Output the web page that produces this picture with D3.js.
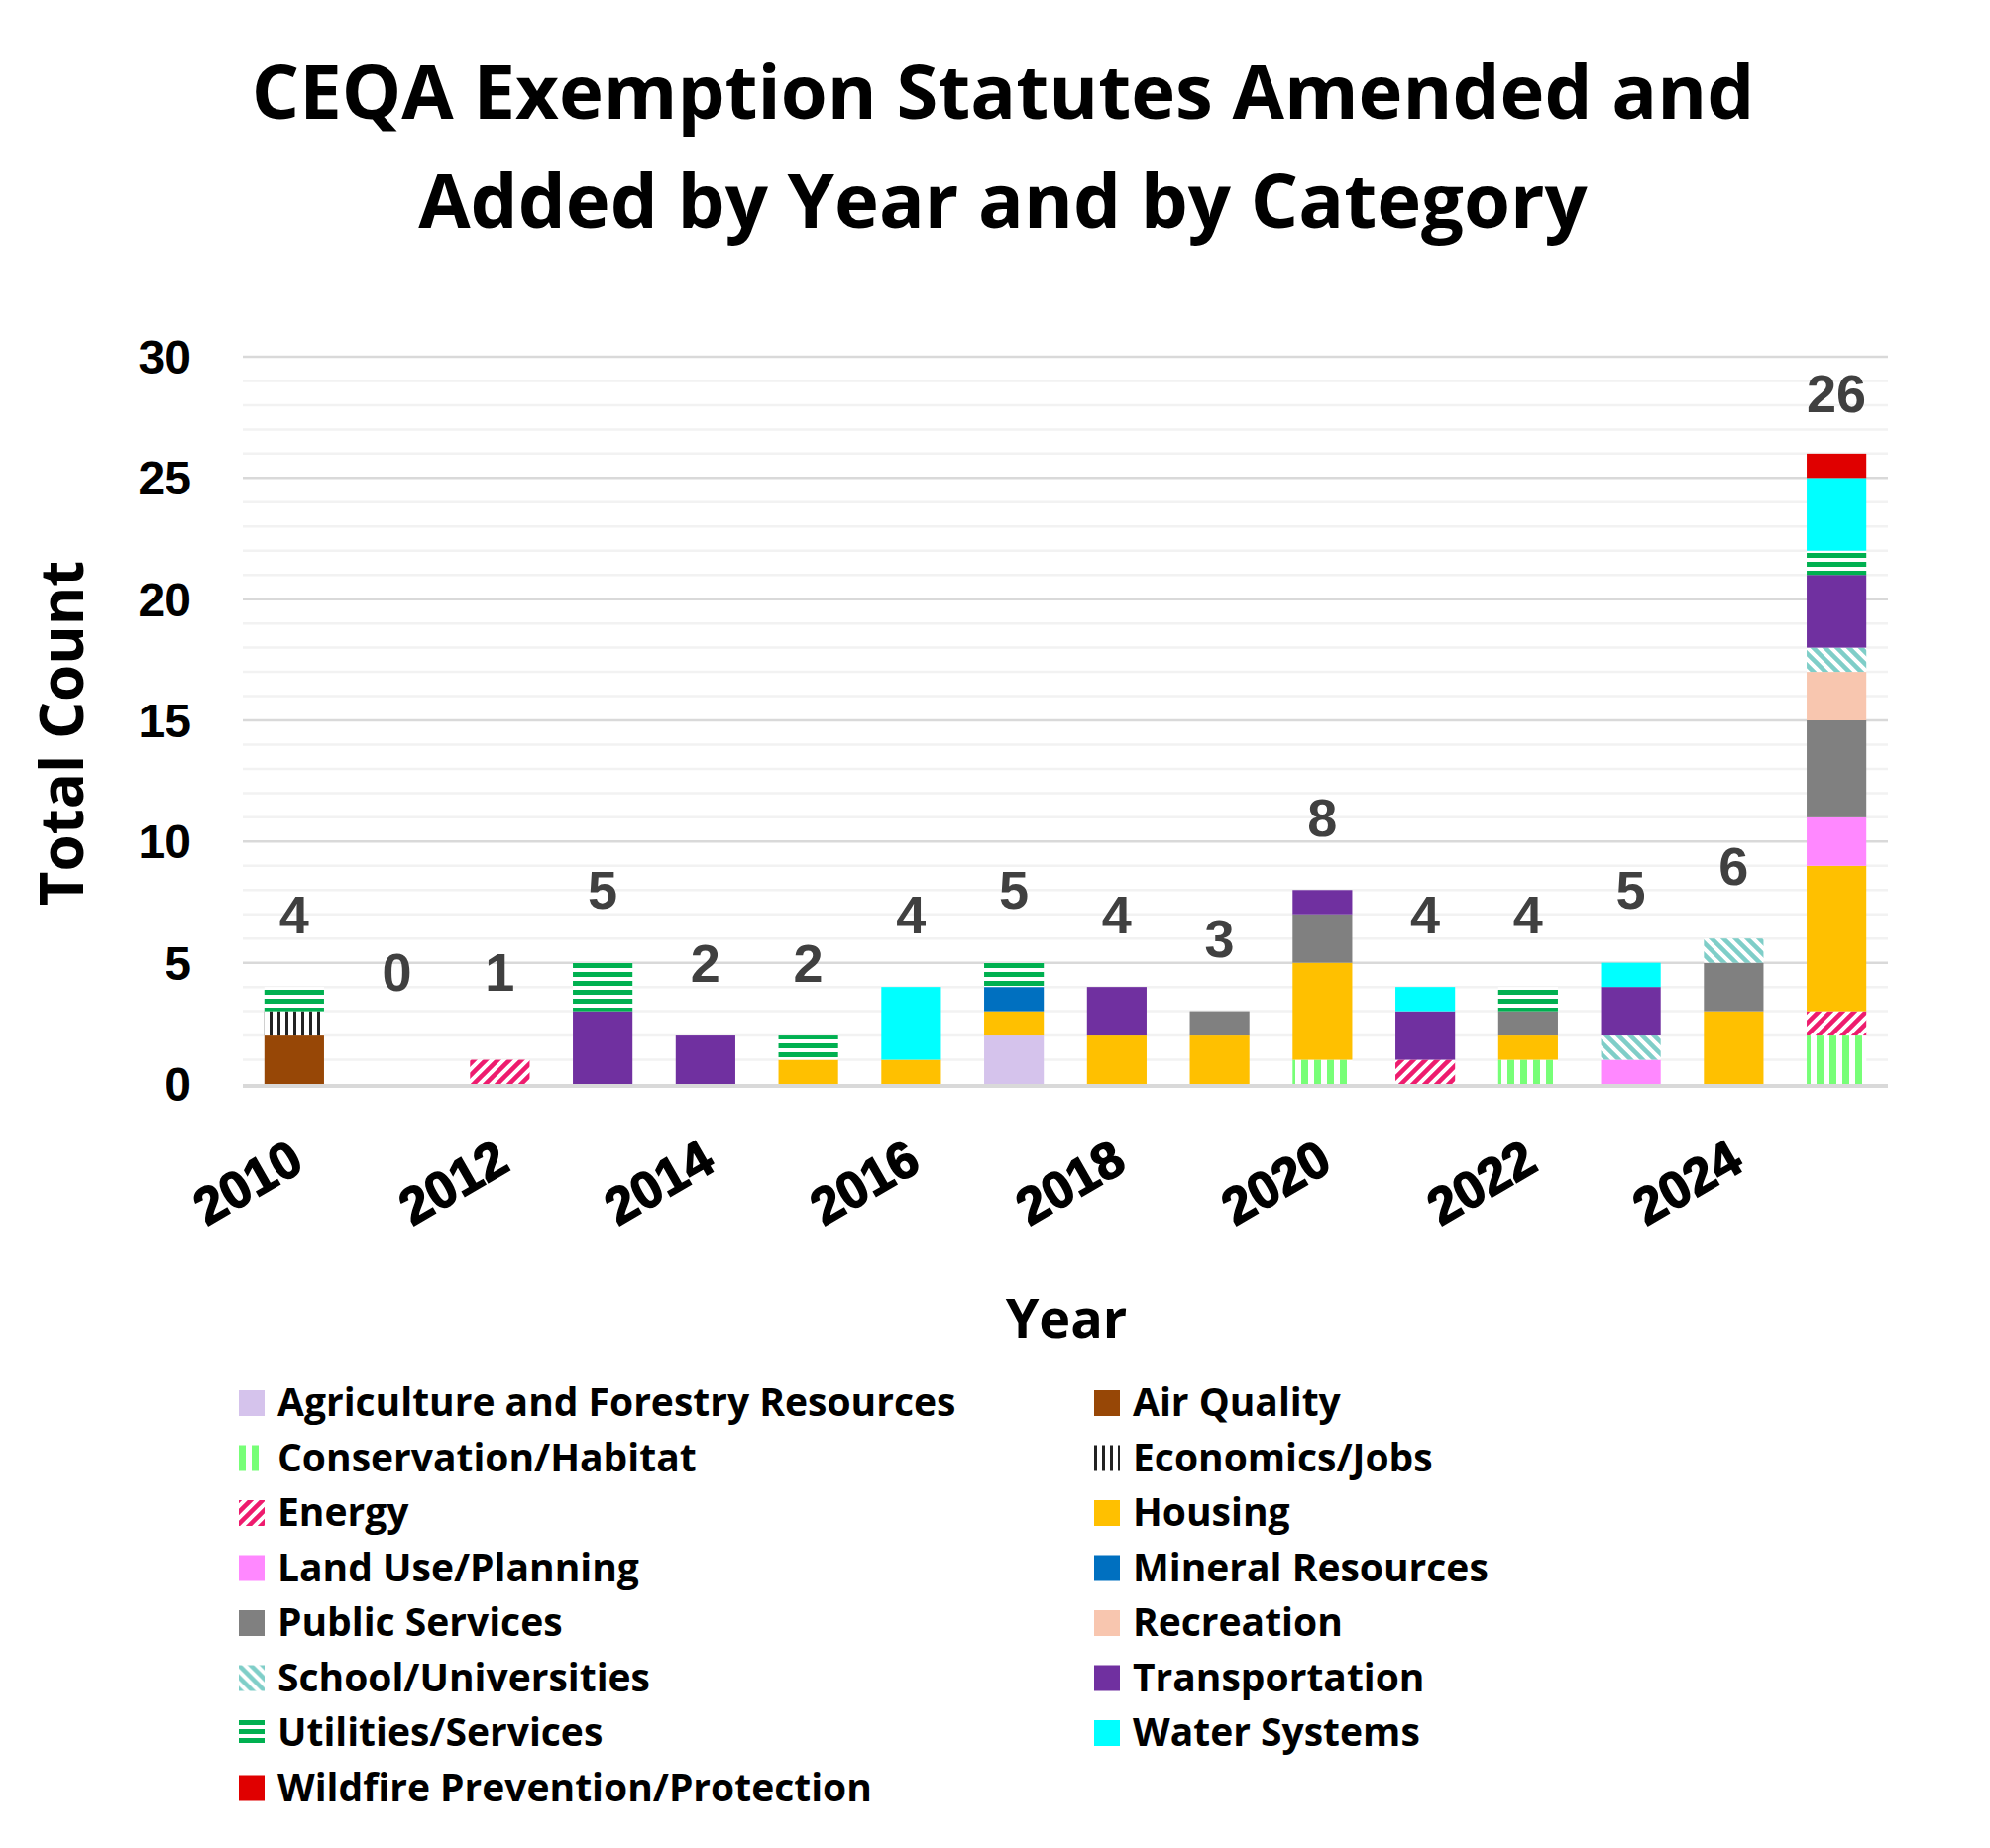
<!DOCTYPE html>
<html>
<head>
<meta charset="utf-8">
<script src="https://cdn.jsdelivr.net/npm/d3@7"></script>
<style>
  body { margin: 0; background: #fff; }
  text { font-family: "Liberation Sans", Arial, sans-serif; }
</style>
</head>
<body>
<div id="chart"></div>
<script>
// years and categories, stacked bottom to top in this order
var years = ["2010","2011","2012","2013","2014","2015","2016","2017","2018","2019","2020","2021","2022","2023","2024","2025"];
var categories = ["Agriculture and Forestry Resources","Air Quality","Conservation/Habitat","Economics/Jobs",
  "Energy","Housing","Land Use/Planning","Mineral Resources","Public Services","Recreation",
  "School/Universities","Transportation","Utilities/Services","Water Systems","Wildfire Prevention/Protection"];

// one array per category, one value per year
var agriculture    = [0,0,0,0,0,0,0,2,0,0,0,0,0,0,0,0];
var airQuality     = [2,0,0,0,0,0,0,0,0,0,0,0,0,0,0,0];
var conservation   = [0,0,0,0,0,0,0,0,0,0,1,0,1,0,0,2];
var economics      = [1,0,0,0,0,0,0,0,0,0,0,0,0,0,0,0];
var energy         = [0,0,1,0,0,0,0,0,0,0,0,1,0,0,0,1];
var housing        = [0,0,0,0,0,1,1,1,2,2,4,0,1,0,3,6];
var landUse        = [0,0,0,0,0,0,0,0,0,0,0,0,0,1,0,2];
var mineral        = [0,0,0,0,0,0,0,1,0,0,0,0,0,0,0,0];
var publicServices = [0,0,0,0,0,0,0,0,0,1,2,0,1,0,2,4];
var recreation     = [0,0,0,0,0,0,0,0,0,0,0,0,0,0,0,2];
var schools        = [0,0,0,0,0,0,0,0,0,0,0,0,0,1,1,1];
var transportation = [0,0,0,3,2,0,0,0,2,0,1,2,0,2,0,3];
var utilities      = [1,0,0,2,0,1,0,1,0,0,0,0,1,0,0,1];
var water          = [0,0,0,0,0,0,3,0,0,0,0,1,0,1,0,3];
var wildfire       = [0,0,0,0,0,0,0,0,0,0,0,0,0,0,0,1];

var series = [agriculture, airQuality, conservation, economics, energy, housing, landUse, mineral,
  publicServices, recreation, schools, transportation, utilities, water, wildfire];
var yTicks = [0, 5, 10, 15, 20, 25, 30];
var xTickYears = ["2010","2012","2014","2016","2018","2020","2022","2024"];

var W = 2008, H = 1865;
var svg = d3.select('#chart').append('svg').attr('width', W).attr('height', H);
var defs = svg.append('defs');
var sansBold = '"Open Sans", Lato, sans-serif';

// fills: plain colours or pattern ids
function pattern(id, size, draw) {
  var p = defs.append('pattern').attr('id', id).attr('patternUnits', 'userSpaceOnUse')
    .attr('width', size).attr('height', size);
  p.append('rect').attr('width', size).attr('height', size).attr('fill', '#fff');
  draw(p);
}
pattern('pCons', 13, function(p) { p.append('rect').attr('x', 0).attr('width', 7).attr('height', 13).attr('fill', '#77FF77'); });
pattern('pEcon', 8, function(p) { p.append('rect').attr('x', 0).attr('width', 3).attr('height', 8).attr('fill', '#222'); });
pattern('pUtil', 9, function(p) { p.append('rect').attr('y', 0).attr('width', 9).attr('height', 5).attr('fill', '#00B050'); });
pattern('pEnergy', 12, function(p) {
  p.append('path').attr('d', 'M-3,15 L15,-3 M-9,9 L9,-9 M3,21 L21,3').attr('stroke', '#EE1C6E').attr('stroke-width', 4.5);
});
pattern('pSchool', 12, function(p) {
  p.append('path').attr('d', 'M-3,-3 L15,15 M-9,3 L9,21 M3,-9 L21,9').attr('stroke', '#7FCEC8').attr('stroke-width', 4.5);
});
var fills = ['#D5C3EC', '#974706', 'url(#pCons)', 'url(#pEcon)', 'url(#pEnergy)', '#FFC000', '#FF88FF', '#0070C0',
  '#808080', '#F8C6AF', 'url(#pSchool)', '#7030A0', 'url(#pUtil)', '#00FFFF', '#E00000'];

// title
svg.append('text').attr('x', 1012).attr('y', 120).attr('text-anchor', 'middle')
  .style('font-family', sansBold).style('font-weight', 'bold').style('font-size', '76px')
  .text('CEQA Exemption Statutes Amended and');
svg.append('text').attr('x', 1012).attr('y', 230).attr('text-anchor', 'middle')
  .style('font-family', sansBold).style('font-weight', 'bold').style('font-size', '76px')
  .text('Added by Year and by Category');

var x = d3.scaleBand().domain(years).range([245, 1905]).paddingInner(0.42).paddingOuter(0.21);
var y = d3.scaleLinear().domain([0, 30]).range([1094, 360]);

// gridlines: minor every unit, major every 5
var g = svg.append('g');
g.selectAll('line.minor').data(d3.range(1, 31).filter(function(d) { return d % 5; })).enter()
  .append('line').attr('x1', 245).attr('x2', 1905).attr('y1', function(d) { return y(d); }).attr('y2', function(d) { return y(d); })
  .attr('stroke', '#F2F2F2').attr('stroke-width', 2.5);
g.selectAll('line.major').data(yTicks.slice(1)).enter()
  .append('line').attr('x1', 245).attr('x2', 1905).attr('y1', function(d) { return y(d); }).attr('y2', function(d) { return y(d); })
  .attr('stroke', '#D9D9D9').attr('stroke-width', 2.5);

// stacks
var rows = years.map(function(yr, i) {
  var r = { year: yr };
  categories.forEach(function(c, k) { r[c] = series[k][i]; });
  return r;
});
var stacked = d3.stack().keys(categories)(rows);
svg.append('g').selectAll('g').data(stacked).enter().append('g')
  .attr('fill', function(d, k) { return fills[k]; })
  .selectAll('rect').data(function(d) { return d; }).enter().append('rect')
  .attr('x', function(d) { return x(d.data.year); })
  .attr('width', x.bandwidth())
  .attr('y', function(d) { return y(d[1]); })
  .attr('height', function(d) { return y(d[0]) - y(d[1]); });

// baseline
svg.append('line').attr('x1', 245).attr('x2', 1905).attr('y1', y(0) + 2).attr('y2', y(0) + 2)
  .attr('stroke', '#D9D9D9').attr('stroke-width', 4);

// totals
var totals = years.map(function(yr, i) { return d3.sum(series, function(s) { return s[i]; }); });
svg.append('g').selectAll('text').data(totals).enter().append('text')
  .attr('x', function(d, i) { return x(years[i]) + x.bandwidth() / 2; })
  .attr('y', function(d) { return y(Math.max(d + (d > 20 ? 2.5 : 3), 4.6)) + 19; })
  .attr('text-anchor', 'middle').attr('fill', '#404040')
  .style('font-weight', 'bold').style('font-size', '54px')
  .text(function(d) { return d; });

// y axis labels
svg.append('g').selectAll('text').data(yTicks).enter().append('text')
  .attr('x', 193).attr('y', function(d) { return y(d) + 17; }).attr('text-anchor', 'end')
  .style('font-weight', 'bold').style('font-size', '48px').text(function(d) { return d; });

// x axis labels, rotated
svg.append('g').selectAll('text').data(xTickYears).enter().append('text')
  .attr('transform', function(d) { return 'translate(' + (x(d) + x.bandwidth() / 2 + 12) + ',1180) rotate(-30)'; })
  .attr('text-anchor', 'end').attr('stroke', '#000').attr('stroke-width', 1.5)
  .style('font-weight', 'bold').style('font-size', '52px').text(function(d) { return d; });

// axis titles
svg.append('text').attr('transform', 'translate(84,740) rotate(-90)').attr('text-anchor', 'middle')
  .style('font-family', sansBold).style('font-weight', 'bold').style('font-size', '60px')
  .text('Total Count');
svg.append('text').attr('x', 1076).attr('y', 1350).attr('text-anchor', 'middle')
  .style('font-family', sansBold).style('font-weight', 'bold').style('font-size', '54px')
  .text('Year');

// legend, two columns
var leg = svg.append('g').selectAll('g').data(categories).enter().append('g')
  .attr('transform', function(d, i) {
    return 'translate(' + (i % 2 ? 1104 : 241) + ',' + (1403 + Math.floor(i / 2) * 55.5) + ')';
  });
leg.append('rect').attr('width', 26).attr('height', 26)
  .attr('fill', function(d, i) { return fills[i]; });
leg.append('text').attr('x', 39).attr('y', 26)
  .style('font-family', sansBold).style('font-weight', 'bold').style('font-size', '39px')
  .text(function(d) { return d; });
</script>
</body>
</html>
